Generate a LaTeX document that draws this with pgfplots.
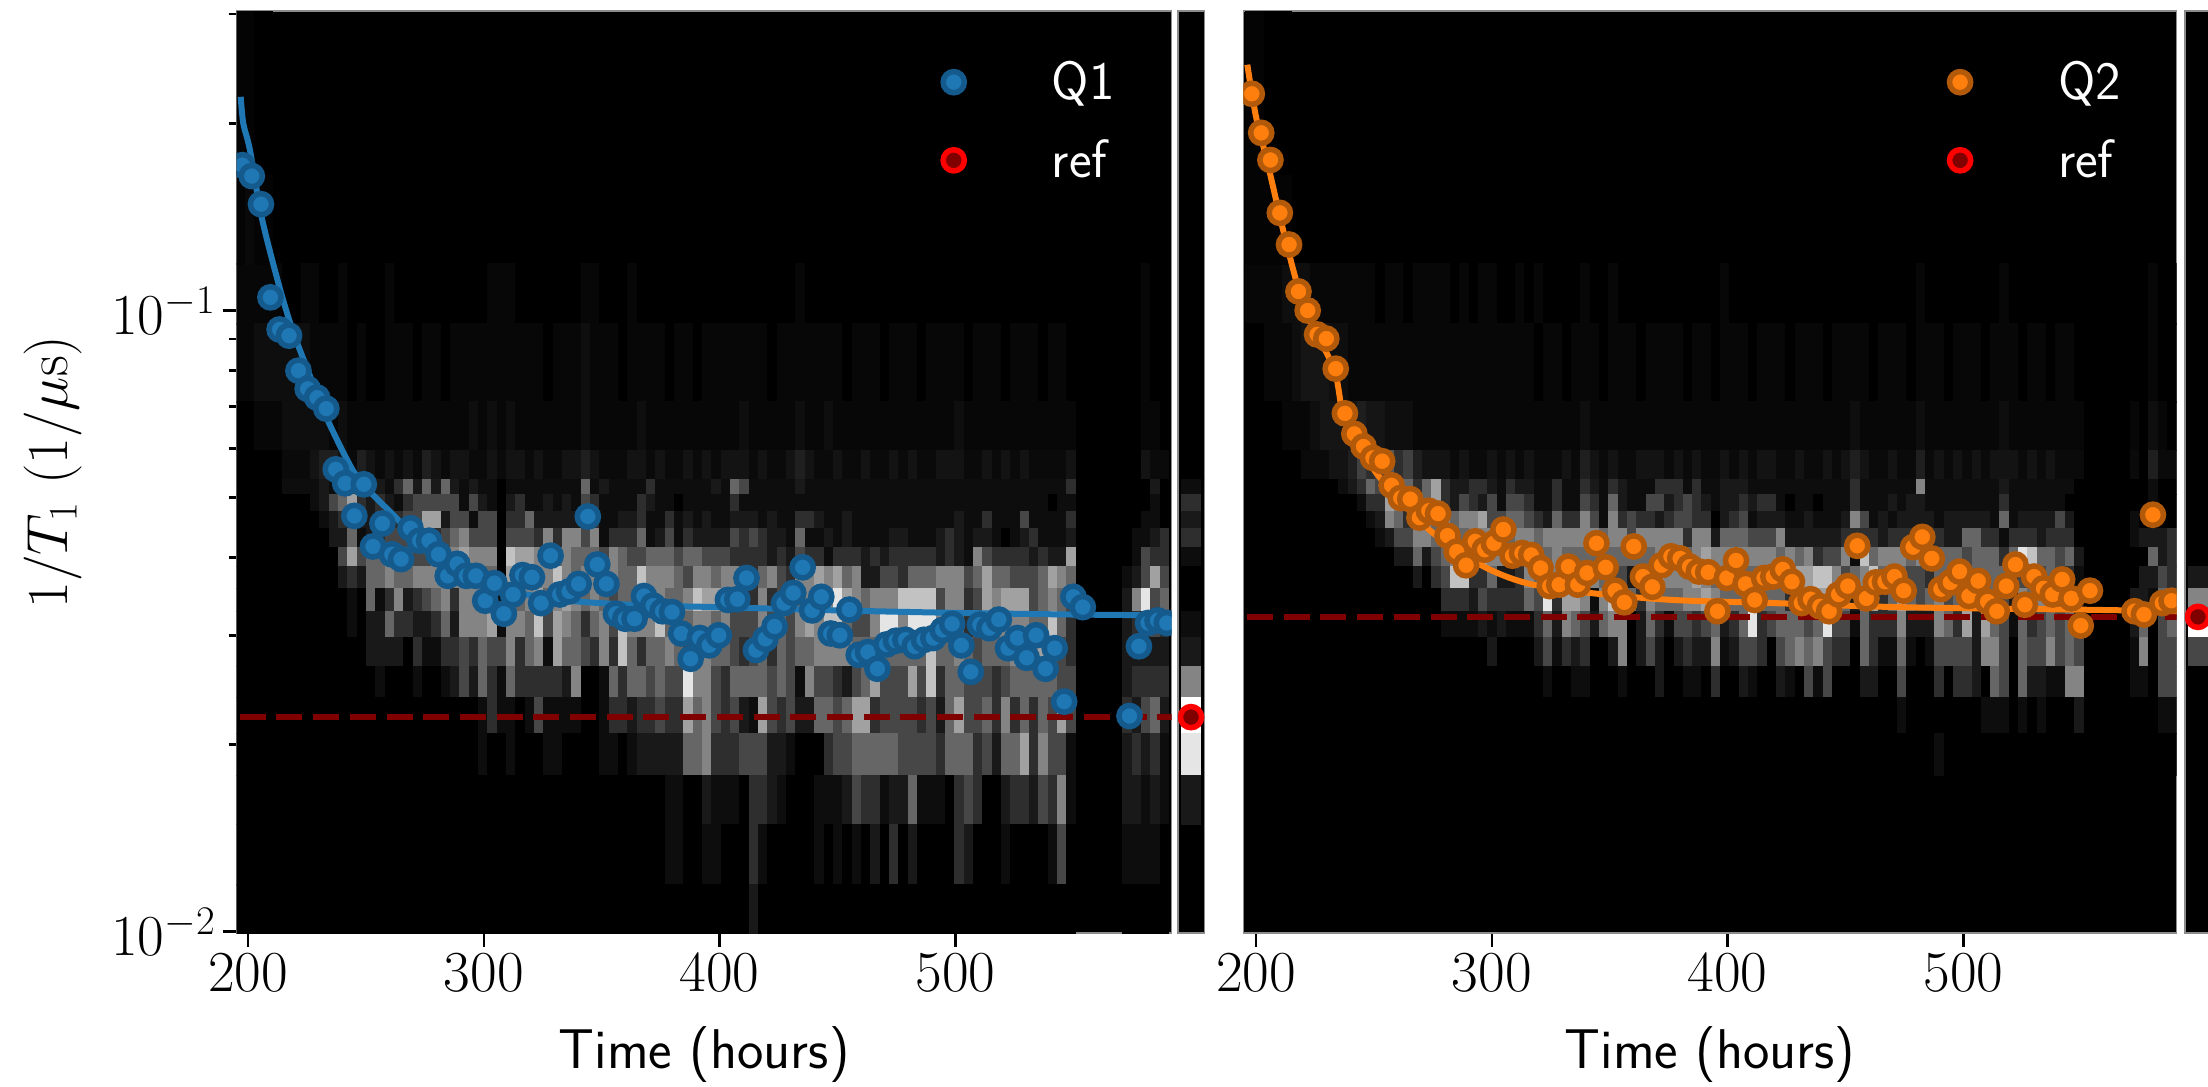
\documentclass[border=0pt]{standalone}
\usepackage{fix-cm}
\usepackage{fontspec}
\usepackage{pgfplots}
\usepackage{pgfplotstable}
\pgfplotsset{compat=1.18}
\definecolor{qb}{HTML}{1F77B4}\definecolor{qbe}{HTML}{155A8C}
\definecolor{qo}{HTML}{FF7F0E}\definecolor{qoe}{HTML}{B35A0A}
\definecolor{rd}{HTML}{800000}
\pgfdeclareplotmark{cell}{\pgfpathrectangle{\pgfpoint{-2.4pt}{-1.03pt}}{\pgfpoint{4.8pt}{2.06pt}}\pgfusepathqfill}
\pgfdeclareplotmark{cellb}{\pgfpathrectangle{\pgfpoint{-5pt}{-1.03pt}}{\pgfpoint{10pt}{2.06pt}}\pgfusepathqfill}
\def\mf{1}
\newcommand\band[4]{%
 \pgfmathsetmacro\hh{155.425*log10((#4)/(#3))}%
 \pgfmathsetmacro\cc{0.00298*sqrt((#3)*(#4))}%
 \edef\tmp{\noexpand\addplot[forget plot,scatter,only marks,scatter src=explicit,mark=\cm,mark options={yscale=\hh}] table[x expr={\xo+\xs*\noexpand\thisrowno{0}},y expr=\cc,meta expr={\mf*\noexpand\thisrowno{#2}}]{\noexpand#1};}\tmp}
\newcommand\heat[2]{% table, number of the last fine column
 \def\mf{0.55}\band#1{1}{32}{40}\band#1{2}{24}{32}\band#1{3}{20}{24}\def\mf{0.75}\band#1{4}{18}{20}\def\mf{1}%
 \pgfplotsforeachungrouped \i in {5,...,#2}{\pgfmathtruncatemacro\kk{22-\i}\pgfmathtruncatemacro\kh{23-\i}\band#1{\i}{\kk}{\kh}}}
\pgfplotstableread{
n g4 g3 g2 g1 k17 k16 k15 k14 k13 k12 k11 k10 k9 k8 k7 k6 k5 k4 k3
0 1 1 0 0 0 0 0 0 0 0 0 0 0 0 0 0 0 0 0
1 1 1 0 0 0 0 0 0 0 0 0 0 0 0 0 0 0 0 0
2 1 2 1 0 0 0 0 0 0 0 0 0 0 0 0 0 0 0 0
3 1 2 1 0 0 0 0 0 0 0 0 0 0 0 0 0 0 0 0
4 1 2 1 0 0 0 0 0 0 0 0 0 0 0 0 0 0 0 0
5 0 2 2 1 1 0 0 0 0 0 0 0 0 0 0 0 0 0 0
6 0 2 2 1 1 0 0 0 0 0 0 0 0 0 0 0 0 0 0
7 1 2 2 1 1 0 0 0 0 0 0 0 0 0 0 0 0 0 0
8 1 1 2 2 1 1 0 0 0 0 0 0 0 0 0 0 0 0 0
9 0 1 2 3 2 2 1 0 0 0 0 0 0 0 0 0 0 0 0
10 0 1 1 3 1 4 2 2 0 0 0 0 0 0 0 0 0 0 0
11 1 1 2 2 2 5 3 2 4 2 0 0 0 0 0 0 0 0 0
12 0 0 1 1 2 7 3 5 7 3 1 1 0 0 0 0 0 0 0
13 0 1 1 3 2 3 2 1 4 2 0 0 0 0 0 0 0 0 0
14 0 0 1 2 3 2 2 2 5 5 5 2 2 0 0 0 0 0 0
15 0 0 1 1 2 3 3 3 5 5 1 2 2 1 0 0 0 0 0
16 1 1 1 2 1 2 3 4 7 6 3 5 2 0 0 0 0 0 0
17 0 1 1 1 3 1 3 4 4 5 6 3 2 0 0 0 0 0 0
18 0 1 1 2 5 3 4 4 5 5 2 3 0 0 0 0 0 0 0
19 0 0 1 1 2 4 4 3 4 6 3 2 3 1 0 0 0 0 0
20 0 1 1 3 5 4 7 3 4 6 4 2 1 0 0 0 0 0 0
21 0 1 1 2 2 4 7 3 6 6 5 3 1 0 0 0 0 0 0
22 0 0 1 1 5 4 2 4 5 6 6 5 3 1 0 0 0 0 0
23 0 1 1 2 2 4 4 5 6 6 3 2 3 2 0 0 0 0 0
24 0 1 1 2 1 1 4 6 7 6 6 6 4 4 0 0 0 0 0
25 0 1 2 1 2 4 1 4 6 6 6 6 3 2 0 0 0 0 0
26 0 1 1 1 1 2 4 4 6 5 7 6 5 5 1 1 0 0 0
27 1 1 2 2 1 1 4 4 6 5 4 7 4 3 3 0 0 0 0
28 1 1 1 1 0 0 0 0 0 0 1 1 4 1 1 0 0 0 0
29 1 1 2 2 1 2 3 4 8 7 6 6 6 5 1 1 0 0 0
30 0 1 1 2 1 3 3 4 7 7 5 6 3 3 0 0 0 0 0
31 0 1 1 1 1 1 5 4 7 6 6 5 5 3 1 0 0 0 0
32 0 1 1 2 1 1 2 3 6 6 7 8 6 3 4 0 0 0 0
33 0 0 1 1 1 2 2 6 3 6 5 4 1 3 1 1 0 0 0
34 0 1 1 1 1 1 2 3 5 8 6 7 7 3 1 1 0 0 0
35 0 1 1 2 1 2 2 6 6 6 7 6 5 2 1 0 0 0 0
36 0 1 1 2 1 1 2 6 5 5 6 5 5 6 1 0 0 0 0
37 1 2 2 3 5 4 2 4 5 6 5 3 4 0 0 0 0 0 0
38 1 1 1 2 1 3 3 6 5 6 6 5 3 0 0 0 0 0 0
39 0 1 1 1 2 1 1 1 4 4 5 6 6 1 1 1 0 0 0
40 0 1 1 1 1 1 1 3 6 6 4 4 3 5 3 1 0 0 0
41 0 0 1 1 1 1 2 3 5 5 5 8 8 3 3 0 0 0 0
42 1 1 1 2 1 1 2 3 4 5 5 6 5 5 2 1 0 0 0
43 0 1 2 2 1 3 3 5 4 8 5 6 3 5 3 2 0 0 0
44 0 1 1 1 3 2 1 1 5 6 5 6 5 4 3 2 0 0 0
45 0 1 1 2 1 1 1 2 5 6 6 8 5 5 4 2 0 0 0
46 0 0 1 1 1 1 3 4 5 6 5 5 6 4 3 2 1 1 0
47 0 1 1 1 1 0 1 1 4 5 5 5 5 4 3 2 1 1 0
48 0 1 1 2 1 1 2 3 5 4 6 5 4 9 7 5 0 0 0
49 0 0 1 1 1 1 1 2 5 6 8 6 6 6 5 5 0 0 0
50 0 1 1 2 1 1 2 2 4 6 7 6 6 6 6 6 2 1 0
51 0 1 1 1 2 1 1 2 4 5 7 5 5 4 4 3 1 1 0
52 0 1 1 2 1 1 1 2 4 6 5 6 5 3 3 3 1 0 0
53 0 1 1 2 5 3 2 4 3 6 5 4 4 5 4 3 1 0 0
54 0 1 2 2 4 1 2 3 3 4 3 4 3 5 2 4 0 0 0
55 0 1 1 1 1 1 2 4 3 3 3 4 4 5 1 4 3 3 2
56 0 1 1 2 1 1 1 3 3 5 6 6 5 5 7 4 3 1 0
57 0 0 1 1 1 1 2 2 2 6 3 4 3 4 4 2 2 0 0
58 0 1 1 1 1 1 1 2 3 4 4 5 5 5 3 2 1 0 0
59 0 1 1 2 1 1 1 1 2 3 3 4 4 4 4 1 0 0 0
60 1 1 2 3 2 1 3 5 4 6 5 6 5 1 2 0 0 0 0
61 0 1 1 2 1 1 3 1 3 6 6 7 5 6 2 0 0 0 0
62 0 1 1 1 1 1 2 1 3 7 5 6 6 4 5 0 1 1 0
63 0 1 2 1 1 1 1 2 1 6 6 8 6 4 5 3 1 0 0
64 0 1 1 2 1 1 1 1 3 7 9 8 6 3 4 4 1 1 0
65 0 0 1 1 1 1 2 2 3 5 7 5 6 2 5 4 2 0 0
66 0 1 1 1 1 1 1 1 3 6 6 4 5 4 7 5 4 1 0
67 0 1 1 2 1 1 1 1 2 2 5 4 5 5 7 5 3 0 0
68 0 1 1 1 1 1 1 1 3 2 6 6 5 7 3 5 3 2 0
69 0 0 1 1 1 1 1 1 2 4 6 9 5 4 4 5 1 0 0
70 0 1 1 2 1 1 1 2 3 4 6 9 5 4 4 5 2 3 0
71 0 1 1 1 1 1 1 2 3 3 8 6 5 4 4 4 2 0 0
72 0 1 1 2 1 1 1 1 3 5 8 9 5 7 4 4 5 2 0
73 0 0 1 1 1 1 1 1 3 5 8 9 5 4 3 4 1 0 0
74 0 1 1 1 1 1 1 1 3 5 8 9 8 8 4 4 1 0 0
75 0 1 1 2 1 1 1 2 2 6 4 6 5 3 2 3 1 0 0
76 0 1 1 2 1 1 1 3 3 6 6 6 5 5 5 5 0 0 0
77 0 1 2 2 1 1 2 2 2 6 6 5 6 5 7 5 3 3 0
78 0 0 1 1 1 1 1 1 1 4 3 3 5 4 4 5 4 2 0
79 0 1 1 1 1 1 1 2 6 5 4 5 4 4 4 3 3 0 0
80 0 1 1 2 1 1 3 2 4 7 7 6 5 4 5 4 0 0 0
81 0 1 1 1 1 1 1 1 3 5 6 6 5 3 3 2 0 0 0
82 0 0 1 2 1 1 1 0 3 5 7 6 5 4 6 5 2 1 0
83 0 1 1 1 1 1 1 1 3 4 7 6 6 5 3 5 3 0 0
84 0 1 1 2 1 1 4 2 3 4 7 6 5 5 5 7 3 0 0
85 0 1 1 1 1 1 1 3 2 4 4 5 6 5 3 3 2 0 0
86 0 0 1 1 1 1 1 1 3 5 5 5 7 5 5 6 4 0 0
87 0 1 1 1 1 0 1 1 2 7 6 8 5 5 4 4 3 1 0
88 0 1 1 1 1 1 1 1 2 6 5 5 4 4 7 4 6 4 0
89 0 0 1 2 3 1 3 2 7 5 4 3 3 4 4 1 1 0 0
95 0 0 0 0 0 0 0 0 0 1 2 2 2 2 3 2 2 1 0
96 0 0 0 0 0 0 0 1 1 2 6 3 2 3 2 3 2 1 0
97 1 1 1 2 0 0 1 1 4 4 9 3 2 3 4 2 1 1 0
98 0 0 1 1 2 1 1 2 3 7 4 4 2 3 5 3 2 1 0
99 0 0 0 1 0 0 0 3 3 4 5 3 2 3 2 1 1 0 0
}\Qa
\pgfplotstableread{
n g4 g3 g2 g1 k17 k16 k15 k14 k13 k12 k11 k10 k9 k8 k7 k6
0 1 0 0 0 0 0 0 0 0 0 0 0 0 0 0 0
1 1 0 0 0 0 0 0 0 0 0 0 0 0 0 0 0
2 1 1 0 0 0 0 0 0 0 0 0 0 0 0 0 0
3 1 1 0 0 0 0 0 0 0 0 0 0 0 0 0 0
4 2 1 1 0 0 0 0 0 0 0 0 0 0 0 0 0
5 2 2 1 0 0 0 0 0 0 0 0 0 0 0 0 0
6 2 3 1 1 0 0 0 0 0 0 0 0 0 0 0 0
7 1 3 2 1 0 0 0 0 0 0 0 0 0 0 0 0
8 1 3 3 1 0 0 0 0 0 0 0 0 0 0 0 0
9 1 2 3 2 0 0 0 0 0 0 0 0 0 0 0 0
10 1 2 3 2 1 0 0 0 0 0 0 0 0 0 0 0
11 1 1 3 3 2 0 0 0 0 0 0 0 0 0 0 0
12 1 1 4 5 3 1 0 0 0 0 0 0 0 0 0 0
13 1 1 3 4 5 3 1 0 0 0 0 0 0 0 0 0
14 0 1 3 5 4 3 2 1 0 0 0 0 0 0 0 0
15 1 1 2 6 3 7 6 2 0 0 0 0 0 0 0 0
16 1 1 2 4 4 6 5 4 2 0 0 0 0 0 0 0
17 0 1 2 5 5 5 3 4 2 0 0 0 0 0 0 0
18 1 1 1 3 3 5 6 6 5 2 0 0 0 0 0 0
19 1 1 1 2 5 5 6 6 2 0 0 0 0 0 0 0
20 1 1 1 2 7 7 5 5 4 3 0 0 0 0 0 0
21 1 1 1 2 3 3 6 5 5 4 3 1 0 0 0 0
22 0 1 1 1 2 2 5 5 6 8 3 1 0 0 0 0
23 1 1 1 2 2 4 6 5 6 8 3 1 0 0 0 0
24 0 1 1 1 3 3 6 6 6 3 2 1 0 0 0 0
25 1 1 1 1 3 2 7 6 7 3 4 2 0 0 0 0
26 1 1 1 2 2 4 4 6 6 5 3 1 2 0 0 0
27 0 1 1 1 1 1 4 5 6 2 3 2 0 0 0 0
28 0 1 1 2 3 4 5 5 6 2 3 1 0 0 0 0
29 1 1 1 1 2 4 5 6 4 3 3 1 0 0 0 0
30 0 1 1 2 2 3 4 6 5 6 5 1 0 0 0 0
31 1 0 1 1 1 1 3 5 5 5 4 3 2 0 0 0
32 0 1 1 1 1 1 2 6 5 5 9 5 4 1 0 0
33 0 1 1 1 3 3 5 6 6 6 3 2 1 0 0 0
34 0 0 1 2 1 1 3 6 5 6 7 6 3 0 0 0
35 0 1 1 1 1 1 3 6 5 6 7 5 2 1 0 0
36 1 1 2 3 3 4 6 6 5 5 6 4 3 1 0 0
37 0 1 1 2 2 3 4 6 5 6 1 2 0 0 0 0
38 0 0 1 1 1 1 1 5 5 5 6 5 0 0 0 0
39 1 1 1 2 3 5 6 6 5 4 8 6 2 0 0 0
40 0 1 1 1 2 2 3 6 5 4 9 6 6 1 0 0
41 0 1 1 1 1 1 4 4 5 2 5 0 0 0 0 0
42 0 0 1 2 1 1 3 6 5 6 3 2 2 0 0 0
43 0 1 1 2 1 4 3 6 5 6 6 5 4 0 0 0
44 0 1 1 2 3 4 2 6 6 7 5 3 2 2 0 0
45 0 1 1 1 3 2 3 6 6 6 5 1 0 0 0 0
46 0 1 1 2 3 3 4 6 6 6 5 4 2 0 0 0
47 0 0 1 1 1 4 4 3 5 6 6 4 3 1 0 0
48 0 1 1 2 3 3 3 6 6 7 6 3 2 1 0 0
49 0 1 1 1 1 2 3 6 7 6 7 4 2 0 0 0
50 0 0 1 1 1 1 0 2 6 5 6 5 6 3 0 0
51 1 1 1 2 2 2 2 5 6 6 5 2 1 0 0 0
52 0 1 1 1 2 2 3 5 6 5 5 3 2 0 0 0
53 0 1 1 2 2 3 4 5 6 5 5 5 4 2 0 0
54 0 0 1 1 1 2 1 4 6 5 8 9 4 1 0 0
55 0 1 1 2 1 3 2 4 6 5 5 3 3 0 0 0
56 0 1 1 2 1 3 2 4 6 5 5 4 0 0 0 0
57 0 1 1 1 1 1 2 6 5 5 5 5 4 2 0 0
58 0 0 1 1 1 0 1 2 6 5 3 5 5 1 0 0
59 0 1 1 2 1 1 1 2 5 7 6 5 6 0 0 0
60 0 1 1 1 1 1 2 2 6 7 7 4 5 4 0 0
61 0 1 1 1 1 0 1 2 3 8 7 5 6 1 0 0
62 0 0 1 2 1 1 1 2 4 8 7 9 4 4 0 0
63 0 1 1 1 1 1 1 2 4 6 6 4 3 0 0 0
64 0 1 1 2 1 1 2 3 6 4 5 4 3 0 0 0
65 0 1 2 3 3 3 6 3 1 5 2 1 0 0 0 0
66 0 1 1 2 1 1 4 3 8 6 6 5 5 2 0 0
67 0 0 1 1 1 1 1 3 5 8 7 3 3 2 0 0
68 0 1 1 1 1 1 2 2 6 5 3 3 1 0 0 0
69 0 1 1 2 1 2 1 3 6 5 5 3 1 0 0 0
70 0 1 1 1 1 1 2 3 6 5 7 6 5 4 1 0
71 0 0 1 1 1 2 2 3 5 4 5 2 1 0 0 0
72 1 1 2 3 6 2 2 5 6 4 4 2 0 0 0 0
73 0 1 1 1 1 1 2 3 5 3 5 2 1 0 0 0
74 0 1 1 2 1 1 1 3 5 5 6 6 4 3 0 1
75 0 0 1 1 1 1 2 2 5 5 4 5 4 0 0 0
76 0 1 1 2 1 1 2 2 5 5 5 3 4 3 0 0
77 0 1 1 1 1 1 2 5 4 5 6 7 4 3 0 0
78 0 1 1 2 1 1 2 5 5 5 5 2 2 2 0 0
79 0 0 1 1 1 1 2 3 5 5 5 7 6 0 1 0
80 0 1 1 2 1 1 1 3 5 5 5 5 6 5 1 0
81 1 1 2 2 2 3 5 1 3 5 4 4 4 4 1 0
82 0 1 1 2 1 1 1 3 5 3 2 1 0 0 0 0
83 0 0 1 1 1 1 2 3 9 4 6 5 5 5 1 0
84 0 1 1 2 1 1 2 3 8 4 5 3 4 2 0 0
85 0 1 1 1 1 1 2 2 5 4 6 4 4 2 1 0
86 0 0 1 2 1 1 2 3 5 5 5 5 6 1 0 0
87 0 1 1 1 1 1 4 3 4 4 4 4 4 1 0 0
88 0 1 1 1 1 0 2 3 5 3 2 5 5 6 0 0
89 0 0 1 1 0 0 0 0 2 1 2 2 4 6 2 0
95 0 0 1 1 0 0 1 1 0 0 2 2 1 1 0 0
96 0 0 0 0 0 0 0 2 0 2 2 5 6 1 0 0
97 1 1 2 3 1 1 0 2 5 2 1 0 0 0 0 0
98 0 0 1 1 0 0 0 2 2 4 5 4 4 4 1 0
99 0 0 0 1 0 0 0 3 3 3 5 5 4 4 1 0
}\Qb
\pgfplotstableread{
n g5 g6
0 1 1
1 2 1
2 1 0
3 1 0
}\Qau
\pgfplotstableread{
n g5 g6
0 1 1
1 1 1
2 1 0
3 1 0
4 1 0
}\Qbu
\pgfplotstableread{
x a b c d k17 k16 k15 k14 k13 k12 k11 k10 k9 k8 k7 k6 k5
13 0 0 0 0 1 3 2 3 1 0 0 1 2 6 10 9 2
}\Sa
\pgfplotstableread{
x a b c d k17 k16 k15 k14 k13 k12 k11 k10 k9 k8 k7 k6 k5
13 0 0 0 0 0 0 0 0 0 2 6 10 4 0 0 0 0
}\Sb
\newcommand\fs{\fontsize{28}{32}\selectfont}
\newcommand\ft{\fontsize{29}{33}\selectfont}
\newcommand\fl{\fontsize{27}{31}\selectfont}
\begin{document}
\begin{tikzpicture}
\useasboundingbox (0,0) rectangle (1104pt,543.5pt);
% ---------- Q1
\begin{axis}[scale only axis, ymode=log, ymin=0.00995, ymax=0.3035, clip mode=individual, clip marker paths=true,
 anchor=south west, axis background/.style={fill=black},
 colormap={hh}{gray=(0) gray=(0.05) gray=(0.10) gray=(0.18) gray=(0.28) gray=(0.40) gray=(0.52) gray=(0.63) gray=(0.76) gray=(0.90) gray=(1)},
 point meta min=0, point meta max=10,
 axis line style={black!45,line width=0.6pt},
 tick align=outside, tick style={black,line width=1.25pt},
 major tick length=7pt, minor tick length=4pt,
 xtick pos=bottom, ytick pos=left,
 minor ytick={0.02,0.03,0.04,0.05,0.06,0.07,0.08,0.09,0.2,0.3},
 tick label style={font=\ft}, xtick={200,300,400,500},
 legend cell align=left,
 legend style={draw=none,fill=none,text=white,font=\sffamily\fl,row sep=14.5pt,inner sep=0pt,at={(0.7522,0.95)},anchor=north west},
 every axis x label/.style={at={(axis description cs:0.5,-0.132)},anchor=center},
 xlabel={\sffamily\fs Time (hours)},
 at={(118.35pt,77pt)}, width=467.5pt, height=461pt,
 xmin=195.2, xmax=591.7, ytick={0.01,0.1},
 every axis y label/.style={at={(axis description cs:-0.196,0.5)},rotate=90,anchor=center},
 ylabel={\ft $1/T_1$ $(1/\mu\mathrm{s})$},
 legend image code/.code={\draw[#1] (0pt,0pt) circle[radius=5.3pt];\path[draw=none,fill=none] (0pt,0pt) -- (47pt,0pt);}]
\def\cm{cell}\def\xo{196.6}\def\xs{3.96}
\heat\Qa{19}
\def\mf{0.35}\band\Qau{1}{40}{56}\band\Qau{2}{56}{101}\def\mf{1}
\addplot[forget plot,color=rd,line width=3.3pt,dash pattern=on 13pt off 5.35pt] coordinates {(196.5,0.02215)(591.7,0.02215)};
\addplot[forget plot,color=qb,line width=3pt,smooth] coordinates {(196.9,0.2208)(198,0.2)(200.8,0.1814)(205.8,0.1413)(212.9,0.1106)(218.5,0.0939)(224.9,0.0809)(233.4,0.0671)(244.7,0.0551)(253,0.0505)(263,0.0463)(275,0.0412)(290,0.0378)(305,0.0358)(320,0.0348)(340,0.0340)(370,0.0335)(400,0.0333)(450,0.0329)(500,0.0326)(550,0.0324)(591.7,0.0323)};
\addplot[forget plot,only marks,mark=*,mark size=5.3pt,mark options={draw=qbe,fill=qb,line width=2.75pt}] coordinates {
(197.6,.1714)(201.6,.1646)(205.5,.1483)(209.5,.105)(213.4,.0932)(217.4,.0911)(221.4,.0800)(225.3,.0748)(229.3,.0724)(233.2,.0695)(237.2,.0555)(241.2,.0527)(245.1,.0467)(249.1,.0525)(253,.0417)(257,.0454)(261,.0405)(264.9,.0398)(268.9,.0446)(272.8,.0426)(276.8,.0426)(280.8,.0405)(284.7,.0374)(288.7,.0391)(292.6,.0374)(296.6,.0374)(300.6,.0341)(304.5,.0364)(308.5,.0325)(312.4,.0349)(316.4,.0375)(320.4,.0372)(324.3,.0338)(328.3,.0403)(332.2,.0349)(336.2,.0353)(340.2,.0363)(344.1,.0466)(348.1,.0390)(352,.0363)(356,.0325)(360,.0319)(363.9,.0319)(367.9,.0347)(371.8,.0335)(375.8,.0328)(379.8,.0327)(383.7,.0302)(387.7,.0275)(391.6,.0297)(395.6,.0289)(399.6,.0300)(403.5,.0342)(407.5,.0343)(411.4,.0371)(415.4,.0284)(419.4,.0296)(423.3,.0310)(427.3,.0338)(431.2,.0351)(435.2,.0386)(439.2,.0329)(443.1,.0346)(447.1,.0302)(451,.0300)(455,.0330)(459,.0279)(462.9,.0282)(466.9,.0265)(470.8,.0290)(474.8,.0294)(478.8,.0295)(482.7,.0288)(486.7,.0295)(490.6,.0297)(494.6,.0306)(498.6,.0313)(502.5,.0289)(506.5,.0262)(510.4,.0312)(514.4,.0308)(518.4,.0318)(522.3,.0286)(526.3,.0297)(530.2,.0276)(534.2,.0300)(538.2,.0265)(542.1,.0286)(546.1,.02346)(550,.0346)(554,.0333)(573.8,.02224)(577.8,.0288)(581.7,.0314)(585.7,.0317)(589.6,.0314)};
\addlegendimage{draw=qbe,fill=qb,line width=2.75pt}
\addlegendentry{Q1}
\addlegendimage{draw=red,fill=rd,line width=2.75pt}
\addlegendentry{ref}
\end{axis}
\begin{axis}[scale only axis, ymode=log, ymin=0.00995, ymax=0.3035, clip mode=individual, clip marker paths=true, anchor=south west, axis background/.style={fill=black},
 colormap={hh}{gray=(0) gray=(0.05) gray=(0.10) gray=(0.18) gray=(0.28) gray=(0.40) gray=(0.52) gray=(0.63) gray=(0.76) gray=(0.90) gray=(1)},
 point meta min=0, point meta max=10,
 axis line style={black!45,line width=0.6pt},
 tick align=outside, tick style={black,line width=1.25pt}, minor tick length=4pt,
 ytick pos=left, xtick=\empty, ytick=\empty,
 minor ytick={0.02,0.03,0.04,0.05,0.06,0.07,0.08,0.09,0.2,0.3},
 at={(589pt,77pt)}, height=461pt, width=13.3pt, xmin=0, xmax=26.6]
\def\cm{cellb}\def\xo{0}\def\xs{1}
\pgfplotsforeachungrouped \i in {5,...,17}{\pgfmathtruncatemacro\kk{22-\i}\pgfmathtruncatemacro\kh{23-\i}\band\Sa{\i}{\kk}{\kh}}
\addplot[forget plot,only marks,mark=*,mark size=5.3pt,mark options={draw=red,fill=rd,line width=2.75pt}] coordinates {(13,0.02215)};
\end{axis}
% ---------- Q2
\begin{axis}[scale only axis, ymode=log, ymin=0.00995, ymax=0.3035, clip mode=individual, clip marker paths=true,
 anchor=south west, axis background/.style={fill=black},
 colormap={hh}{gray=(0) gray=(0.05) gray=(0.10) gray=(0.18) gray=(0.28) gray=(0.40) gray=(0.52) gray=(0.63) gray=(0.76) gray=(0.90) gray=(1)},
 point meta min=0, point meta max=10,
 axis line style={black!45,line width=0.6pt},
 tick align=outside, tick style={black,line width=1.25pt},
 major tick length=7pt, minor tick length=4pt,
 xtick pos=bottom, ytick pos=left,
 minor ytick={0.02,0.03,0.04,0.05,0.06,0.07,0.08,0.09,0.2,0.3},
 tick label style={font=\ft}, xtick={200,300,400,500},
 legend cell align=left,
 legend style={draw=none,fill=none,text=white,font=\sffamily\fl,row sep=14.5pt,inner sep=0pt,at={(0.7532,0.95)},anchor=north west},
 every axis x label/.style={at={(axis description cs:0.5,-0.132)},anchor=center},
 xlabel={\sffamily\fs Time (hours)},
 at={(621.65pt,77pt)}, width=466.7pt, height=461pt,
 xmin=194.6, xmax=590.5, ytick=\empty,
 legend image code/.code={\draw[#1] (0pt,0pt) circle[radius=5.3pt];\path[draw=none,fill=none] (0pt,0pt) -- (47pt,0pt);}]
\def\cm{cell}\def\xo{197.4}\def\xs{3.95}
\heat\Qb{16}
\def\mf{0.35}\band\Qbu{1}{40}{56}\band\Qbu{2}{56}{101}\def\mf{1}
\addplot[forget plot,color=rd,line width=3.3pt,dash pattern=on 13pt off 5.35pt] coordinates {(196.2,0.03212)(590.5,0.03212)};
\addplot[forget plot,color=qo,line width=3pt,smooth] coordinates {(196.3,0.2487)(200,0.205)(205,0.172)(213,0.1277)(221,0.100)(233,0.0806)(237,0.0683)(245,0.0610)(251.2,0.0546)(272.4,0.0447)(295,0.0390)(314.8,0.0364)(341.6,0.0351)(376.8,0.0342)(420,0.0338)(472.7,0.0333)(548,0.0330)(590.5,0.0328)};
\addplot[forget plot,only marks,mark=*,mark size=5.3pt,mark options={draw=qoe,fill=qo,line width=2.75pt}] coordinates {
(198.2,.2233)(202.2,.1932)(206.1,.1747)(210.1,.1436)(214,.1277)(218,.1073)(221.9,.1000)(225.9,.0915)(229.8,.0901)(233.8,.0806)(237.7,.0683)(241.7,.0633)(245.6,.0604)(249.6,.0579)(253.5,.0572)(257.5,.0523)(261.4,.0499)(265.4,.0497)(269.3,.0464)(273.3,.0476)(277.2,.0471)(281.2,.0434)(285.1,.0409)(289.1,.0389)(293,.0425)(297,.0412)(300.9,.0422)(304.9,.0444)(308.8,.0403)(312.8,.0407)(316.7,.0404)(320.7,.0385)(324.6,.0360)(328.6,.0362)(332.5,.0387)(336.5,.0362)(340.4,.0378)(344.4,.0422)(348.3,.0386)(352.3,.0354)(356.2,.0339)(360.2,.0417)(364.1,.0373)(368.1,.0359)(372,.0389)(376,.0402)(379.9,.0399)(383.9,.0387)(387.8,.0380)(391.8,.0379)(395.7,.0328)(399.7,.0371)(403.6,.0396)(407.6,.0363)(411.5,.0342)(415.5,.0371)(419.4,.0373)(423.4,.0383)(427.3,.0366)(431.3,.0338)(435.2,.0343)(439.2,.0334)(443.1,.0328)(447.1,.0349)(451,.0360)(455,.0418)(458.9,.0344)(462.9,.0365)(466.8,.0366)(470.8,.0373)(474.7,.0354)(478.7,.0416)(482.6,.0432)(486.6,.0399)(490.5,.0356)(494.5,.0365)(498.4,.0380)(502.4,.0347)(506.3,.0367)(510.3,.0340)(514.2,.0328)(518.2,.0360)(522.1,.0390)(526.1,.0336)(530,.0373)(534,.0357)(537.9,.0349)(541.9,.0369)(545.8,.0344)(549.8,.0311)(553.7,.0354)(572.6,.0328)(576.6,.0324)(580.4,.0469)(584.4,.0338)(588.3,.0341)};
\addlegendimage{draw=qoe,fill=qo,line width=2.75pt}
\addlegendentry{Q2}
\addlegendimage{draw=red,fill=rd,line width=2.75pt}
\addlegendentry{ref}
\end{axis}
\begin{axis}[scale only axis, ymode=log, ymin=0.00995, ymax=0.3035, clip mode=individual, clip marker paths=true, anchor=south west, axis background/.style={fill=black},
 colormap={hh}{gray=(0) gray=(0.05) gray=(0.10) gray=(0.18) gray=(0.28) gray=(0.40) gray=(0.52) gray=(0.63) gray=(0.76) gray=(0.90) gray=(1)},
 point meta min=0, point meta max=10,
 axis line style={black!45,line width=0.6pt},
 tick align=outside, tick style={black,line width=1.25pt}, minor tick length=4pt,
 ytick pos=left, xtick=\empty, ytick=\empty,
 minor ytick={0.02,0.03,0.04,0.05,0.06,0.07,0.08,0.09,0.2,0.3},
 at={(1092.5pt,77pt)}, height=461pt, width=13.3pt, xmin=0, xmax=26.6]
\def\cm{cellb}\def\xo{0}\def\xs{1}
\pgfplotsforeachungrouped \i in {5,...,17}{\pgfmathtruncatemacro\kk{22-\i}\pgfmathtruncatemacro\kh{23-\i}\band\Sb{\i}{\kk}{\kh}}
\addplot[forget plot,only marks,mark=*,mark size=5.3pt,mark options={draw=red,fill=rd,line width=2.75pt}] coordinates {(13,0.03212)};
\end{axis}
\end{tikzpicture}
\end{document}
